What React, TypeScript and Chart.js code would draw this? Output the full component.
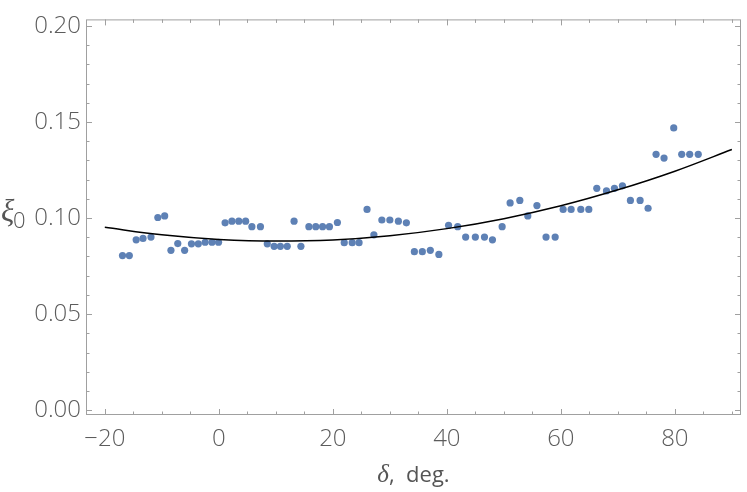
import { useEffect, useRef } from 'react';
import { Chart, registerables } from 'chart.js';
Chart.register(...registerables);

const deltaDeg = [
  -16.9, -15.7, -14.5, -13.3, -11.9, -10.7, -9.5, -8.4, -7.2, -6.0, -4.8, -3.6, -2.4, -1.2, -0.05,
  1.1, 2.3, 3.5, 4.7, 5.8, 7.3, 8.5, 9.7, 10.8, 12.0, 13.2, 14.4, 15.8, 17.0, 18.2,
  19.4, 20.8, 22.0, 23.4, 24.6, 26.0, 27.2, 28.6, 30.0, 31.5, 32.9, 34.3, 35.7, 37.1, 38.6,
  40.3, 41.9, 43.3, 45.0, 46.6, 48.0, 49.7, 51.1, 52.8, 54.2, 55.8, 57.4, 59.0, 60.4, 61.8,
  63.5, 64.9, 66.3, 68.0, 69.4, 70.8, 72.2, 73.9, 75.3, 76.7, 78.1, 79.8, 81.2, 82.6, 84.1,
];
const xi0 = [
  0.0805, 0.0805, 0.0887, 0.0894, 0.0901, 0.1003, 0.1011, 0.0832, 0.0867, 0.0832, 0.0866, 0.0866, 0.0874, 0.0874, 0.0874,
  0.0975, 0.0984, 0.0984, 0.0984, 0.0955, 0.0955, 0.0866, 0.0853, 0.0853, 0.0853, 0.0984, 0.0853, 0.0955, 0.0955, 0.0955,
  0.0955, 0.0977, 0.0872, 0.0872, 0.0872, 0.1045, 0.0913, 0.0990, 0.0990, 0.0984, 0.0975, 0.0825, 0.0825, 0.0832, 0.0811,
  0.0962, 0.0955, 0.0901, 0.0901, 0.0901, 0.0887, 0.0955, 0.1079, 0.1092, 0.1011, 0.1065, 0.0901, 0.0901, 0.1045, 0.1045,
  0.1045, 0.1045, 0.1155, 0.1141, 0.1155, 0.1168, 0.1092, 0.1092, 0.1051, 0.1332, 0.1312, 0.1469, 0.1332, 0.1332, 0.1332,
];
const fitDeg = [-20, -10, 0, 10, 20, 30, 40, 50, 60, 70, 80, 90];
const fitXi = [0.0952, 0.0913, 0.0889, 0.0880, 0.0886, 0.0908, 0.0945, 0.0997, 0.1064, 0.1147, 0.1244, 0.1357];

const xMajorTicks = [-20, 0, 20, 40, 60, 80];
const xMinorTicks = [-20, -15, -10, -5, 0, 5, 10, 15, 20, 25, 30, 35, 40, 45, 50, 55, 60, 65, 70, 75, 80, 85, 90];
const yMajorTicks = [0, 0.05, 0.1, 0.15, 0.2];
const yMinorTicks = [0, 0.01, 0.02, 0.03, 0.04, 0.05, 0.06, 0.07, 0.08, 0.09, 0.1, 0.11, 0.12, 0.13, 0.14, 0.15, 0.16, 0.17, 0.18, 0.19, 0.2];

const TICK_FONT = '"Open Sans", "Noto Sans", sans-serif';
const FRAME = '#a0a0a0';
const LABEL = '#5c5c5c';

export default function App() {
  const ref = useRef<HTMLCanvasElement>(null);
  useEffect(() => {
    const framePlugin = {
      id: 'frame',
      afterDatasetsDraw(chart: any) {
        const { ctx, chartArea: a, scales } = chart;
        const xs = scales.x, ys = scales.y;
        ctx.save();
        ctx.strokeStyle = FRAME;
        ctx.lineWidth = 1;
        ctx.strokeRect(a.left + 0.5, a.top + 0.5, a.right - a.left - 1, a.bottom - a.top - 1);
        ctx.beginPath();
        for (const v of xMinorTicks) {
          const len = xMajorTicks.includes(v) ? 6 : 3.5;
          const px = Math.round(xs.getPixelForValue(v)) + 0.5;
          ctx.moveTo(px, a.bottom); ctx.lineTo(px, a.bottom - len);
          ctx.moveTo(px, a.top); ctx.lineTo(px, a.top + len);
        }
        for (const v of yMinorTicks) {
          const len = yMajorTicks.some((m) => Math.abs(m - v) < 1e-9) ? 6 : 3.5;
          const py = Math.round(ys.getPixelForValue(v)) + 0.5;
          ctx.moveTo(a.left, py); ctx.lineTo(a.left + len, py);
          ctx.moveTo(a.right, py); ctx.lineTo(a.right - len, py);
        }
        ctx.stroke();
        // axis titles
        ctx.fillStyle = '#555555';
        ctx.textBaseline = 'alphabetic';
        ctx.textAlign = 'left';
        ctx.font = 'italic 25px "Liberation Serif", serif';
        const dW = ctx.measureText('δ').width;
        ctx.font = '22px ' + TICK_FONT;
        const restW = ctx.measureText(',  deg.').width;
        const cx = (a.left + a.right) / 2;
        const sx = cx - (dW + restW) / 2;
        ctx.font = 'italic 25px "Liberation Serif", serif';
        ctx.fillText('δ', sx, 482);
        ctx.font = '22px ' + TICK_FONT;
        ctx.fillText(',  deg.', sx + dW, 482);
        ctx.font = 'italic 31px "Liberation Serif", serif';
        ctx.fillText('ξ', 1, 221);
        ctx.font = '300 22px ' + TICK_FONT;
        ctx.fillText('0', 13, 228);
        ctx.restore();
      },
    };

    const chart = new Chart(ref.current as HTMLCanvasElement, {
      type: 'scatter',
      data: {
        datasets: [
          {
            type: 'line',
            data: fitDeg.map((x, i) => ({ x, y: fitXi[i] })),
            borderColor: '#000000',
            borderWidth: 1.5,
            pointRadius: 0,
            cubicInterpolationMode: 'monotone',
            fill: false,
            order: 0,
          } as any,
          {
            type: 'scatter',
            data: deltaDeg.map((x, i) => ({ x, y: xi0[i] })),
            backgroundColor: '#5e81b5',
            borderColor: '#5e81b5',
            borderWidth: 0,
            pointRadius: 3.6,
            order: 1,
          },
        ],
      },
      options: {
        animation: false,
        responsive: false,
        devicePixelRatio: 1,
        layout: { padding: { left: 0, right: 6, top: 9, bottom: 0 } },
        plugins: { legend: { display: false }, tooltip: { enabled: false } },
        scales: {
          x: {
            type: 'linear',
            min: -23.3,
            max: 91.6,
            grid: { display: false, drawTicks: false },
            border: { display: false },
            afterBuildTicks: (s: any) => { s.ticks = xMajorTicks.map((v) => ({ value: v })); },
            afterFit: (s: any) => { s.height = 77; },
            ticks: {
              padding: 10,
              color: LABEL,
              font: { family: TICK_FONT, size: 24, weight: 300 as any },
              callback: (v: any) => (Number(v) < 0 ? '\u2212' + Math.abs(Number(v)) : String(v)),
            },
          },
          y: {
            type: 'linear',
            min: -0.0025,
            max: 0.2034,
            grid: { display: false, drawTicks: false },
            border: { display: false },
            afterBuildTicks: (s: any) => { s.ticks = yMajorTicks.map((v) => ({ value: v })); },
            afterFit: (s: any) => { s.width = 86; },
            ticks: {
              padding: 5,
              color: LABEL,
              font: { family: TICK_FONT, size: 24, weight: 300 as any },
              callback: (v: any) => Number(v).toFixed(2),
            },
          },
        },
      },
      plugins: [framePlugin],
    });
    return () => chart.destroy();
  }, []);
  return (
    <div style={{ position: 'fixed', left: 0, top: 0, width: 747, height: 492, background: '#ffffff' }}>
      <canvas ref={ref} width={747} height={492} style={{ width: 747, height: 492, display: 'block' }} />
    </div>
  );
}
